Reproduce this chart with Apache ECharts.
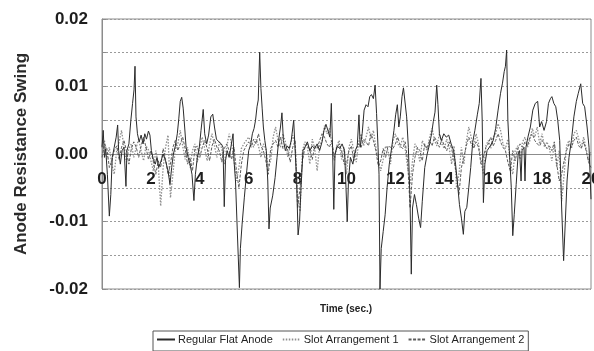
<!DOCTYPE html>
<html>
<head>
<meta charset="utf-8">
<script src="https://cdn.jsdelivr.net/npm/echarts@6/dist/echarts.min.js"></script>
<style>
  html, body { margin: 0; padding: 0; background: #fff; }
  #chart { width: 594px; height: 351px; }
</style>
</head>
<body>
<div id="chart"></div>
<script>
// Series names shown in the legend
const seriesNames = ['Regular Flat Anode', 'Slot Arrangement 1', 'Slot Arrangement 2'];

// Axis tick labels
const xTickLabels = ['0', '2', '4', '6', '8', '10', '12', '14', '16', '18', '20'];
const yTickLabels = ['-0.02', '-0.01', '0.00', '0.01', '0.02'];

// Regular flat anode: [time (s), resistance swing]
const flatAnode = [
  [0.00, 0.0010], [0.05, 0.0035], [0.10, -0.0005], [0.15, 0.0008], [0.22, -0.0030],
  [0.30, -0.0092], [0.36, -0.0060], [0.42, -0.0005], [0.50, 0.0010], [0.58, 0.0025],
  [0.64, 0.0043], [0.68, 0.0005], [0.75, -0.0015], [0.82, 0.0005], [0.90, 0.0010],
  [0.98, -0.0048], [1.02, 0.0005], [1.10, 0.0015], [1.18, 0.0050], [1.25, 0.0075],
  [1.31, 0.0095], [1.35, 0.0130], [1.39, 0.0055], [1.45, 0.0030], [1.52, 0.0018],
  [1.60, 0.0028], [1.68, 0.0015], [1.75, 0.0030], [1.82, 0.0022], [1.90, 0.0034],
  [1.96, 0.0028], [2.02, 0.0005], [2.10, -0.0008], [2.18, -0.0015], [2.25, -0.0005],
  [2.32, -0.0020], [2.40, -0.0012], [2.50, 0.0000], [2.60, -0.0010], [2.70, -0.0025],
  [2.78, -0.0045], [2.85, -0.0020], [2.92, 0.0000], [3.00, 0.0012], [3.08, 0.0030],
  [3.14, 0.0052], [3.20, 0.0078], [3.26, 0.0084], [3.32, 0.0068], [3.38, 0.0040],
  [3.44, 0.0010], [3.52, -0.0005], [3.60, -0.0015], [3.68, -0.0030], [3.76, -0.0069],
  [3.82, -0.0030], [3.90, -0.0005], [3.98, 0.0010], [4.05, 0.0035], [4.14, 0.0066],
  [4.20, 0.0030], [4.28, 0.0015], [4.36, 0.0028], [4.45, 0.0055], [4.53, 0.0059],
  [4.60, 0.0040], [4.68, 0.0022], [4.78, 0.0018], [4.88, 0.0015], [4.95, 0.0010],
  [5.00, -0.0078], [5.05, -0.0010], [5.12, 0.0005], [5.20, -0.0005], [5.28, 0.0012],
  [5.36, 0.0030], [5.40, -0.0010], [5.46, -0.0040], [5.54, -0.0120], [5.62, -0.0198],
  [5.66, -0.0140], [5.73, -0.0104], [5.82, -0.0065], [5.92, -0.0025], [6.00, 0.0005],
  [6.08, 0.0014], [6.15, 0.0030], [6.22, 0.0038], [6.28, 0.0050], [6.34, 0.0070],
  [6.39, 0.0080], [6.45, 0.0151], [6.50, 0.0097], [6.55, 0.0068], [6.60, 0.0040],
  [6.66, 0.0020], [6.72, 0.0005], [6.78, -0.0040], [6.83, -0.0111], [6.88, -0.0080],
  [6.98, -0.0062], [7.08, -0.0035], [7.16, -0.0005], [7.24, 0.0025], [7.30, 0.0040],
  [7.36, 0.0061], [7.42, 0.0020], [7.50, 0.0005], [7.58, 0.0012], [7.66, 0.0008],
  [7.74, 0.0020], [7.84, 0.0050], [7.90, 0.0005], [7.96, -0.0040], [8.02, -0.0120],
  [8.08, -0.0100], [8.14, -0.0050], [8.22, 0.0005], [8.30, 0.0010], [8.40, 0.0018],
  [8.50, 0.0005], [8.60, 0.0012], [8.70, 0.0008], [8.80, 0.0015], [8.90, 0.0005],
  [9.00, 0.0018], [9.08, 0.0035], [9.16, 0.0044], [9.24, 0.0035], [9.32, 0.0025],
  [9.38, 0.0075], [9.43, 0.0010], [9.48, -0.0082], [9.53, 0.0000], [9.62, 0.0012],
  [9.72, 0.0008], [9.82, 0.0015], [9.92, 0.0005], [9.98, -0.0050], [10.03, -0.0100],
  [10.08, -0.0040], [10.16, -0.0005], [10.26, -0.0015], [10.36, 0.0005], [10.44, 0.0012],
  [10.51, 0.0058], [10.56, 0.0010], [10.64, 0.0030], [10.72, 0.0065], [10.80, 0.0073],
  [10.88, 0.0070], [10.95, 0.0085], [11.02, 0.0088], [11.10, 0.0082], [11.17, 0.0102],
  [11.23, 0.0060], [11.29, 0.0010], [11.33, -0.0030], [11.37, -0.0200], [11.42, -0.0140],
  [11.50, -0.0115], [11.58, -0.0090], [11.66, -0.0050], [11.75, -0.0015], [11.85, 0.0010],
  [11.94, 0.0035], [12.01, 0.0058], [12.08, 0.0073], [12.14, 0.0040], [12.20, 0.0055],
  [12.27, 0.0085], [12.33, 0.0098], [12.39, 0.0100], [12.46, 0.0055], [12.53, 0.0010],
  [12.60, -0.0070], [12.65, -0.0178], [12.70, -0.0080], [12.78, -0.0060], [12.86, -0.0075],
  [12.95, -0.0095], [13.03, -0.0109], [13.10, -0.0070], [13.20, -0.0020], [13.30, 0.0000],
  [13.40, 0.0015], [13.48, 0.0030], [13.55, 0.0048], [13.62, 0.0062], [13.69, 0.0102],
  [13.74, 0.0073], [13.80, 0.0030], [13.88, 0.0020], [13.98, 0.0030], [14.08, 0.0025],
  [14.18, 0.0028], [14.28, 0.0015], [14.38, 0.0005], [14.46, -0.0015], [14.53, -0.0040],
  [14.62, -0.0075], [14.70, -0.0095], [14.78, -0.0119], [14.84, -0.0085], [14.92, -0.0079],
  [15.00, -0.0050], [15.08, -0.0020], [15.16, 0.0017], [15.25, 0.0035], [15.35, 0.0058],
  [15.43, 0.0075], [15.50, 0.0112], [15.55, 0.0050], [15.60, -0.0072], [15.66, -0.0015],
  [15.75, 0.0005], [15.88, 0.0012], [16.00, 0.0020], [16.10, 0.0038], [16.20, 0.0065],
  [16.30, 0.0090], [16.38, 0.0105], [16.45, 0.0122], [16.50, 0.0130], [16.55, 0.0154],
  [16.60, 0.0050], [16.66, 0.0005], [16.74, -0.0050], [16.80, -0.0121], [16.86, -0.0090],
  [16.94, -0.0045], [17.02, 0.0000], [17.08, 0.0005], [17.14, -0.0040], [17.18, 0.0005],
  [17.26, 0.0010], [17.30, -0.0040], [17.34, 0.0010], [17.42, 0.0025], [17.52, 0.0040],
  [17.62, 0.0065], [17.72, 0.0075], [17.82, 0.0078], [17.90, 0.0040], [17.98, 0.0048],
  [18.08, 0.0035], [18.18, 0.0048], [18.26, 0.0075], [18.34, 0.0082], [18.40, 0.0085],
  [18.48, 0.0075], [18.56, 0.0070], [18.64, 0.0050], [18.72, 0.0020], [18.80, -0.0080],
  [18.88, -0.0158], [18.95, -0.0100], [19.02, -0.0040], [19.10, -0.0005], [19.20, 0.0020],
  [19.30, 0.0055], [19.40, 0.0078], [19.48, 0.0090], [19.58, 0.0104], [19.66, 0.0075],
  [19.74, 0.0070], [19.84, 0.0040], [19.92, 0.0010], [20.00, -0.0067]
];

// Slot arrangements are sampled every 0.1 s from 0 to 20 s
const SAMPLE_STEP = 0.1;

const slotOne = [
  0.0012, 0.0020, -0.0008, 0.0010, -0.0015, -0.0030, 0.0005, 0.0018, 0.0035, 0.0010,
  -0.0012, 0.0008, 0.0015, -0.0005, 0.0010, 0.0022, 0.0005, -0.0010, 0.0012, 0.0006,
  -0.0010, -0.0025, 0.0005, -0.0015, -0.0077, -0.0020, 0.0010, 0.0028, -0.0065, -0.0030,
  0.0008, 0.0015, 0.0035, 0.0012, -0.0008, 0.0010, -0.0020, 0.0005, 0.0015, -0.0012,
  0.0010, 0.0025, 0.0008, -0.0010, 0.0015, 0.0030, 0.0012, -0.0005, 0.0018, 0.0008,
  -0.0015, 0.0010, 0.0030, 0.0015, -0.0010, -0.0040, -0.0020, 0.0008, 0.0015, 0.0020,
  0.0025, 0.0018, 0.0010, 0.0022, 0.0012, -0.0005, 0.0015, 0.0008, -0.0020, -0.0010,
  0.0025, 0.0040, 0.0020, 0.0010, 0.0030, 0.0018, -0.0005, 0.0012, 0.0028, 0.0015,
  -0.0060, -0.0085, 0.0005, 0.0018, 0.0010, -0.0015, 0.0022, 0.0008, -0.0025, 0.0012,
  0.0020, 0.0042, 0.0030, 0.0038, 0.0015, -0.0010, 0.0012, 0.0020, -0.0008, 0.0010,
  -0.0030, 0.0010, 0.0022, 0.0005, -0.0012, 0.0018, 0.0030, 0.0012, 0.0025, 0.0040,
  0.0022, 0.0035, 0.0010, -0.0010, -0.0025, -0.0008, 0.0012, 0.0005, -0.0015, 0.0020,
  0.0030, 0.0015, 0.0010, 0.0025, 0.0008, -0.0020, -0.0045, -0.0010, 0.0015, 0.0008,
  -0.0012, 0.0020, 0.0012, 0.0005, 0.0025, 0.0038, 0.0020, 0.0012, 0.0030, 0.0015,
  0.0008, 0.0022, 0.0010, -0.0015, 0.0012, -0.0050, -0.0030, 0.0010, -0.0015, 0.0018,
  0.0040, 0.0025, 0.0010, 0.0030, 0.0015, -0.0010, -0.0030, 0.0012, 0.0020, 0.0008,
  0.0025, 0.0030, 0.0045, 0.0035, 0.0015, 0.0008, 0.0022, -0.0015, -0.0030, 0.0005,
  0.0012, -0.0008, 0.0018, 0.0025, 0.0010, 0.0020, 0.0038, 0.0025, 0.0040, 0.0015,
  0.0030, 0.0010, 0.0018, 0.0008, -0.0010, 0.0015, -0.0020, 0.0005, -0.0070, -0.0030,
  0.0012, 0.0020, 0.0008, 0.0030, 0.0035, 0.0022, 0.0010, 0.0025, 0.0008, -0.0010,
  0.0005
];

const slotTwo = [
  -0.0005, 0.0015, 0.0008, -0.0020, -0.0010, 0.0005, 0.0012, -0.0008, 0.0010, 0.0020,
  0.0005, -0.0015, 0.0008, 0.0018, 0.0010, -0.0005, 0.0012, 0.0025, 0.0010, -0.0008,
  0.0005, -0.0012, -0.0030, -0.0010, -0.0020, 0.0008, -0.0008, -0.0030, -0.0015, 0.0010,
  0.0020, 0.0005, 0.0015, 0.0025, 0.0008, -0.0015, -0.0005, -0.0025, 0.0008, 0.0012,
  -0.0005, 0.0010, 0.0020, 0.0008, -0.0010, 0.0012, 0.0022, 0.0010, 0.0005, -0.0012,
  0.0008, 0.0015, 0.0005, -0.0008, 0.0010, -0.0025, -0.0050, -0.0015, 0.0005, 0.0012,
  0.0018, 0.0010, 0.0022, 0.0015, 0.0030, 0.0012, 0.0005, -0.0010, -0.0030, 0.0008,
  0.0015, 0.0020, 0.0010, 0.0025, 0.0008, 0.0015, 0.0005, -0.0012, 0.0010, 0.0020,
  -0.0080, -0.0050, -0.0010, 0.0010, 0.0015, 0.0005, -0.0008, 0.0012, 0.0008, 0.0020,
  0.0030, 0.0025, 0.0015, 0.0010, 0.0020, -0.0005, 0.0008, 0.0015, 0.0005, -0.0015,
  -0.0015, 0.0005, 0.0012, -0.0010, 0.0008, 0.0015, 0.0010, 0.0022, 0.0018, 0.0012,
  0.0030, 0.0020, 0.0005, -0.0018, -0.0010, 0.0008, -0.0005, 0.0012, 0.0010, 0.0008,
  0.0015, 0.0025, 0.0012, 0.0008, 0.0018, -0.0010, -0.0080, -0.0030, -0.0005, 0.0010,
  0.0005, -0.0010, 0.0015, 0.0008, 0.0020, 0.0012, 0.0025, 0.0018, 0.0010, 0.0022,
  0.0012, 0.0005, 0.0018, 0.0008, -0.0010, -0.0030, -0.0060, -0.0020, -0.0005, 0.0012,
  0.0025, 0.0015, 0.0008, 0.0018, 0.0010, -0.0015, -0.0005, 0.0010, 0.0015, 0.0025,
  0.0012, 0.0020, 0.0030, 0.0018, 0.0010, 0.0005, -0.0012, -0.0025, 0.0005, -0.0010,
  0.0008, 0.0015, 0.0010, 0.0018, 0.0012, 0.0025, 0.0030, 0.0020, 0.0015, 0.0012,
  0.0020, 0.0015, 0.0008, 0.0012, 0.0005, 0.0018, -0.0015, -0.0040, -0.0030, -0.0010,
  0.0005, 0.0015, 0.0010, 0.0020, 0.0025, 0.0012, 0.0008, 0.0018, 0.0005, -0.0012,
  -0.0020
];

// Pair each sampled value with its sample time
function withTimes(values) {
  return values.map((v, i) => [Math.round(i * SAMPLE_STEP * 10) / 10, v]);
}

const chart = echarts.init(document.getElementById('chart'), null, { renderer: 'canvas' });

const FONT = 'Arial, "Liberation Sans", sans-serif';
const GRID = { left: 102, right: 3, top: 19, bottom: 62 };
const PLOT_HEIGHT = 351 - GRID.top - GRID.bottom;
const Y_MIN = -0.02, Y_MAX = 0.02;

chart.setOption({
  animation: false,
  backgroundColor: '#ffffff',
  grid: Object.assign({
    show: true, borderColor: '#8c8c8c', borderWidth: 1, backgroundColor: 'transparent',
    outerBoundsMode: 'none', containLabel: false
  }, GRID),
  xAxis: {
    type: 'value',
    min: 0, max: 20, interval: 2,
    position: 'bottom',
    // shift the time axis (line and labels) up to the zero level of the y scale
    offset: -PLOT_HEIGHT * (0 - Y_MIN) / (Y_MAX - Y_MIN),
    axisLine: { onZero: false, lineStyle: { color: '#8c8c8c', width: 1 } },
    axisTick: { show: false },
    splitLine: { show: false },
    axisLabel: {
      margin: 17,
      fontFamily: FONT, fontWeight: 'bold', fontSize: 17, color: '#1e1e1e',
      showMinLabel: true, showMaxLabel: true, hideOverlap: false,
      formatter: v => {
        const s = String(Math.round(v));
        return xTickLabels.includes(s) ? s : '';
      }
    }
  },
  yAxis: {
    type: 'value',
    min: Y_MIN, max: Y_MAX, interval: 0.005,
    name: 'Anode Resistance Swing',
    nameLocation: 'middle',
    nameGap: 72,
    nameTextStyle: { fontFamily: FONT, fontWeight: 'bold', fontSize: 17, color: '#2a2a2a' },
    axisLine: { show: true, lineStyle: { color: '#8c8c8c' } },
    axisTick: { show: true, inside: true, length: 4, lineStyle: { color: '#8c8c8c' } },
    splitLine: { show: true, lineStyle: { color: '#9a9a9a', type: [2, 2], width: 1 } },
    axisLabel: {
      margin: 14,
      fontFamily: FONT, fontWeight: 'bold', fontSize: 17, color: '#1e1e1e',
      formatter: v => {
        const s = (Math.abs(v) < 1e-9 ? 0 : v).toFixed(2);
        return yTickLabels.includes(s) && Math.abs(v * 100 - Math.round(v * 100)) < 1e-6 ? s : '';
      }
    }
  },
  legend: {
    data: seriesNames,
    left: 153, top: 331,
    orient: 'horizontal',
    itemWidth: 18, itemHeight: 8, itemGap: 9,
    padding: [3, 4, 6, 3],
    borderColor: '#555', borderWidth: 1,
    itemStyle: { color: 'transparent', borderWidth: 0, opacity: 0 },
    textStyle: { fontFamily: FONT, fontSize: 11, color: '#222', padding: [0, 0, 0, -2] }
  },
  graphic: [{
    type: 'text',
    left: 320,
    top: 304,
    style: { text: 'Time (sec.)', font: 'bold 10px Arial, "Liberation Sans", sans-serif', fill: '#222' }
  }],
  series: [
    {
      name: seriesNames[1], type: 'line', data: withTimes(slotOne),
      showSymbol: false, symbol: 'none', z: 2,
      lineStyle: { color: '#8f8f8f', width: 1.3, type: [1.5, 1.5] },
      itemStyle: { color: '#8f8f8f' }
    },
    {
      name: seriesNames[2], type: 'line', data: withTimes(slotTwo),
      showSymbol: false, symbol: 'none', z: 3,
      lineStyle: { color: '#5c5c5c', width: 1, type: [3, 1.5] },
      itemStyle: { color: '#5c5c5c' }
    },
    {
      name: seriesNames[0], type: 'line', data: flatAnode,
      showSymbol: false, symbol: 'none', z: 4,
      lineStyle: { color: '#2b2b2b', width: 1 },
      itemStyle: { color: '#2b2b2b' }
    }
  ]
});
</script>
</body>
</html>
